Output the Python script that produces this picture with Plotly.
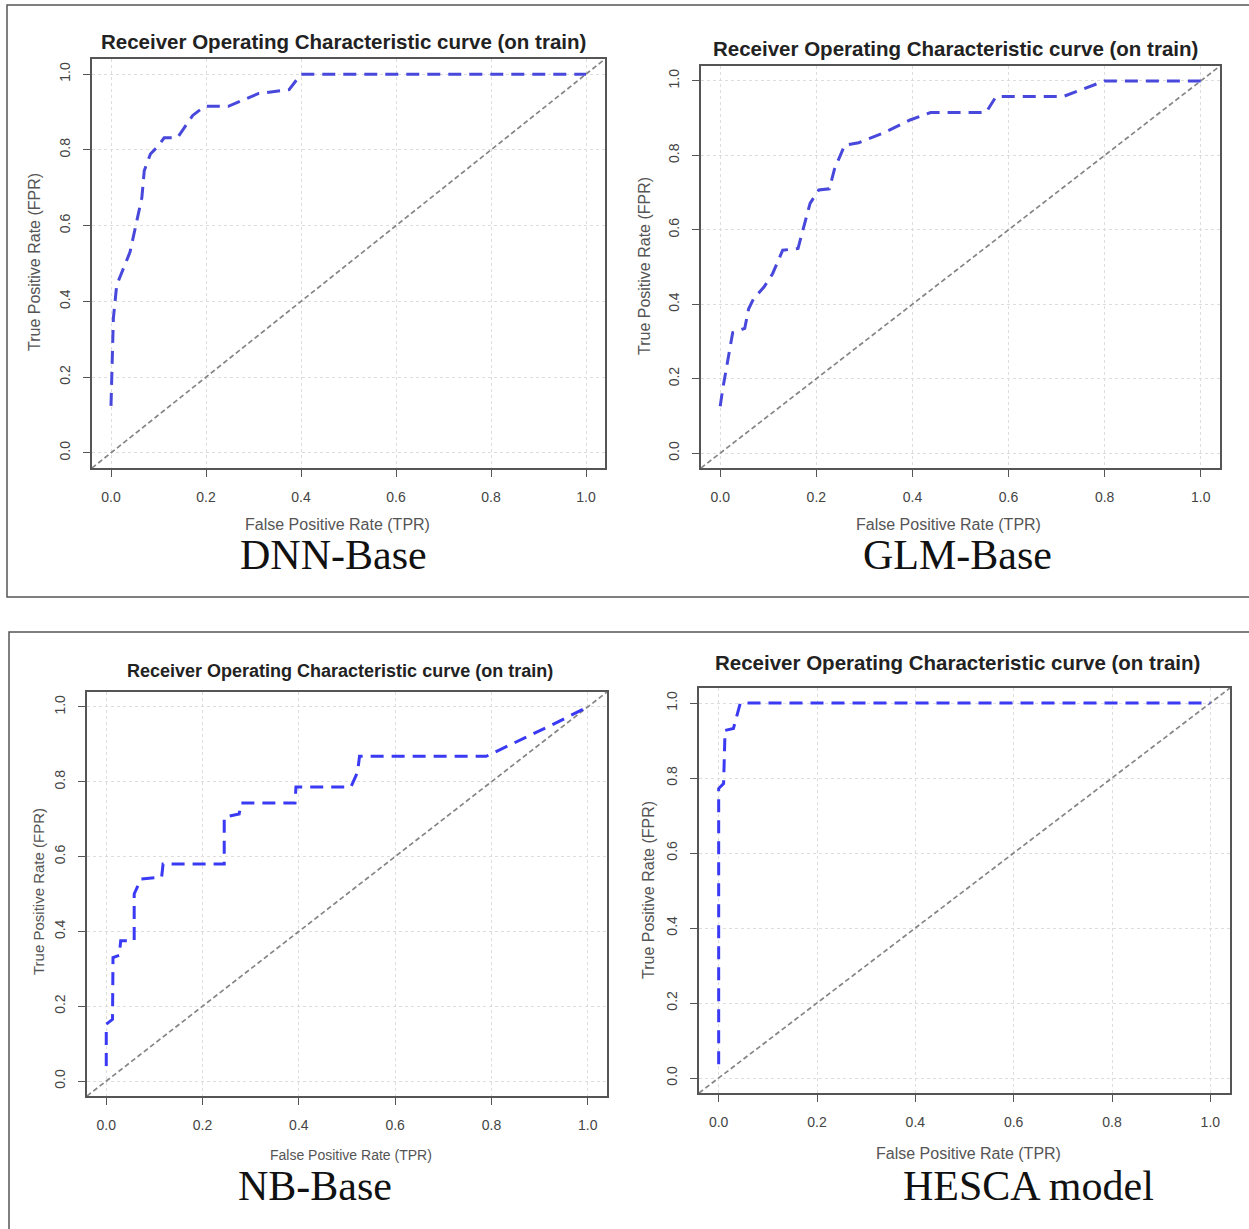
import plotly.graph_objects as go

W, H = 1249, 1229

# ROC points (false positive rate, true positive rate)
dnn_fpr = [0.0, 0.005, 0.012, 0.04, 0.065, 0.07, 0.083, 0.10, 0.112, 0.14, 0.172, 0.197, 0.247, 0.311, 0.375, 0.40, 1.0]
dnn_tpr = [0.124, 0.355, 0.443, 0.53, 0.674, 0.745, 0.789, 0.811, 0.832, 0.832, 0.891, 0.915, 0.915, 0.949, 0.959, 1.0, 1.0]

glm_fpr = [0.0, 0.005, 0.026, 0.051, 0.059, 0.069, 0.091, 0.109, 0.13, 0.162, 0.173, 0.187, 0.205, 0.227,
           0.238, 0.259, 0.288, 0.338, 0.395, 0.438, 0.553, 0.574, 0.714, 0.789, 0.80, 1.0]
glm_tpr = [0.126, 0.171, 0.324, 0.335, 0.387, 0.414, 0.446, 0.482, 0.545, 0.55, 0.604, 0.671, 0.707, 0.71,
           0.764, 0.827, 0.834, 0.859, 0.895, 0.915, 0.915, 0.958, 0.958, 0.994, 1.0, 1.0]

nb_fpr = [0.0, 0.0, 0.013, 0.014, 0.027, 0.03, 0.058, 0.058, 0.072, 0.115, 0.118, 0.245, 0.245, 0.276,
          0.28, 0.392, 0.394, 0.508, 0.522, 0.526, 0.789, 0.86, 0.93, 1.0]
nb_tpr = [0.04, 0.152, 0.165, 0.33, 0.336, 0.375, 0.375, 0.50, 0.54, 0.545, 0.58, 0.58, 0.705, 0.714,
          0.743, 0.743, 0.786, 0.786, 0.826, 0.868, 0.868, 0.911, 0.955, 1.0]

hesca_fpr = [0.0, 0.0, 0.01, 0.013, 0.03, 0.044, 1.0]
hesca_tpr = [0.037, 0.772, 0.785, 0.927, 0.932, 1.0, 1.0]

tick_vals = [0.0, 0.2, 0.4, 0.6, 0.8, 1.0]
tick_text = ["0.0", "0.2", "0.4", "0.6", "0.8", "1.0"]
model_names = ["DNN-Base", "GLM-Base", "NB-Base", "HESCA model"]
plot_title = "Receiver Operating Characteristic curve (on train)"
x_label = "False Positive Rate (TPR)"
y_label = "True Positive Rate (FPR)"

axis_range = [-0.04, 1.04]

# pixel layout of each panel: plot box, title, axis labels, caption
panels = [
    dict(fpr=dnn_fpr, tpr=dnn_tpr, box=(92, 605, 59, 468), title=(343, 41, 20.5), xlab=(337, 524, 16),
         ylab=(35, 262, 16), cap=(334, 555), blue="#4848dc"),
    dict(fpr=glm_fpr, tpr=glm_tpr, box=(701, 1220, 66, 468), title=(955, 49, 20.5), xlab=(948, 524, 16),
         ylab=(645, 266, 16), cap=(957, 555), blue="#4848dc"),
    dict(fpr=nb_fpr, tpr=nb_tpr, box=(87, 607, 692, 1096), title=(340, 671, 18), xlab=(351, 1155, 14),
         ylab=(38, 892, 15), cap=(315, 1186), blue="#3a3af4"),
    dict(fpr=hesca_fpr, tpr=hesca_tpr, box=(699, 1230, 688, 1093), title=(957, 662, 20.5), xlab=(968, 1153, 16),
         ylab=(648, 890, 16), cap=(1028, 1186), blue="#3a3af4"),
]


def px_x(x):
    return x / W


def px_y(y):
    return 1 - y / H


fig = go.Figure()
annotations = []
layout_axes = {}

for i, p in enumerate(panels):
    n = "" if i == 0 else str(i + 1)
    xa, ya = "x" + n, "y" + n

    # chance diagonal
    fig.add_trace(go.Scatter(
        x=axis_range, y=axis_range, xaxis=xa, yaxis=ya, mode="lines",
        line=dict(color="#858585", width=1.7, dash="5px,3px"),
        showlegend=False, hoverinfo="skip"
    ))
    # ROC curve
    fig.add_trace(go.Scatter(
        x=p["fpr"], y=p["tpr"], xaxis=xa, yaxis=ya, mode="lines",
        line=dict(color=p["blue"], width=3, dash="13px,8px"),
        showlegend=False
    ))

    x0, x1, y0, y1 = p["box"]
    common = dict(
        range=axis_range, tickvals=tick_vals, ticktext=tick_text,
        showline=True, mirror=True, linecolor="#555555", linewidth=1.5,
        ticks="outside", ticklen=7, tickcolor="#555555", tickwidth=1.2,
        showgrid=True, gridcolor="#dddddd", griddash="dot", gridwidth=1,
        zeroline=False, tickfont=dict(family="Liberation Sans", size=14, color="#444444"),
        ticklabelstandoff=8, fixedrange=True
    )
    layout_axes["xaxis" + n] = dict(common, domain=[px_x(x0), px_x(x1)], anchor=ya)
    layout_axes["yaxis" + n] = dict(common, domain=[px_y(y1), px_y(y0)], anchor=xa, tickangle=-90)

    tx, ty, ts = p["title"]
    annotations.append(dict(
        x=px_x(tx), y=px_y(ty), xref="paper", yref="paper", text="<b>" + plot_title + "</b>",
        showarrow=False, xanchor="center", yanchor="middle",
        font=dict(family="Liberation Sans", size=ts, color="#222222")
    ))
    lx, ly, ls = p["xlab"]
    annotations.append(dict(
        x=px_x(lx), y=px_y(ly), xref="paper", yref="paper", text=x_label,
        showarrow=False, xanchor="center", yanchor="middle",
        font=dict(family="Liberation Sans", size=ls, color="#555555")
    ))
    vx, vy, vs = p["ylab"]
    annotations.append(dict(
        x=px_x(vx), y=px_y(vy), xref="paper", yref="paper", text=y_label, textangle=-90,
        showarrow=False, xanchor="center", yanchor="middle",
        font=dict(family="Liberation Sans", size=vs, color="#555555")
    ))
    cx, cy = p["cap"]
    annotations.append(dict(
        x=px_x(cx), y=px_y(cy), xref="paper", yref="paper", text=model_names[i],
        showarrow=False, xanchor="center", yanchor="middle",
        font=dict(family="Liberation Serif", size=42, color="#111111")
    ))

# outer frames around each row of panels
shapes = [
    dict(type="rect", xref="paper", yref="paper", x0=px_x(7), x1=px_x(1260), y0=px_y(597), y1=px_y(5),
         line=dict(color="#555555", width=1.5)),
    dict(type="rect", xref="paper", yref="paper", x0=px_x(9), x1=px_x(1260), y0=px_y(1240), y1=px_y(632),
         line=dict(color="#555555", width=1.5)),
]

fig.update_layout(
    width=W, height=H, autosize=False,
    margin=dict(l=0, r=0, t=0, b=0),
    paper_bgcolor="white", plot_bgcolor="white",
    annotations=annotations, shapes=shapes,
    **layout_axes
)

# drop the default page margin so the figure sits at the window's top-left corner
fig.write_html("out.html", config={"displayModeBar": False},
               post_script="document.body.style.margin='0';")
